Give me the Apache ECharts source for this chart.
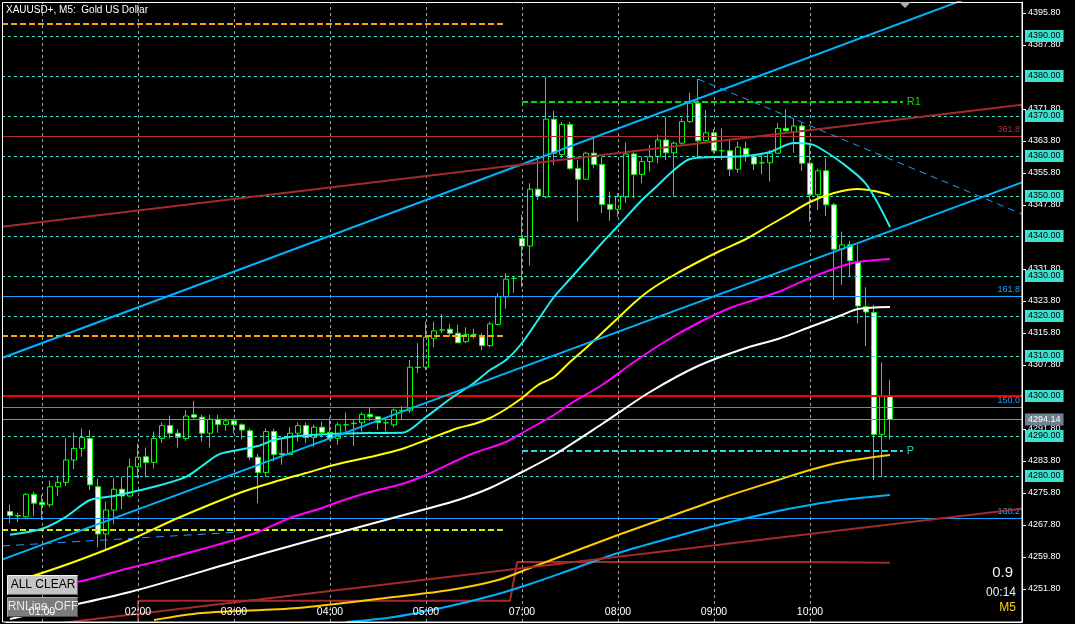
<!DOCTYPE html>
<html>
<head>
<meta charset="utf-8">
<title>XAUUSD+, M5</title>
<script src="https://cdn.jsdelivr.net/npm/echarts@6/dist/echarts.min.js"></script>
<style>
  html, body { margin: 0; padding: 0; background: #000; }
  #chart { width: 1075px; height: 624px; }
</style>
</head>
<body>
<div id="chart"></div>
<script>
// ---- price data: one M5 bar per entry, [open, close, low, high] ----
const candles = [
  [4271.1,4270.1,4268.2,4272.9],[4270.1,4270.0,4268.5,4270.8],[4269.8,4275.4,4269.2,4275.7],[4275.4,4273.2,4270.0,4276.1],
  [4273.4,4272.8,4269.0,4275.3],[4272.8,4277.3,4272.2,4278.8],[4277.3,4278.4,4275.0,4279.8],[4278.4,4284.0,4277.5,4289.4],
  [4284.0,4286.9,4281.7,4290.8],[4286.9,4289.6,4284.8,4291.9],[4289.4,4277.8,4276.5,4291.5],[4277.3,4265.5,4262.2,4279.3],
  [4265.5,4271.5,4261.5,4273.6],[4271.5,4276.7,4268.0,4279.4],[4276.7,4275.0,4271.7,4279.8],[4275.0,4282.3,4274.8,4284.4],
  [4282.3,4284.7,4279.4,4288.2],[4284.8,4283.4,4279.7,4287.1],[4283.4,4289.4,4281.9,4291.1],[4289.4,4292.6,4288.3,4293.4],
  [4292.6,4290.7,4289.4,4295.1],[4290.7,4289.7,4287.1,4291.7],[4289.4,4295.0,4288.8,4296.5],[4295.3,4294.7,4294.3,4298.8],
  [4294.7,4290.7,4288.6,4295.3],[4290.7,4294.2,4287.1,4295.3],[4294.2,4292.9,4290.8,4295.3],[4292.9,4293.8,4291.3,4294.4],
  [4293.8,4292.8,4290.7,4294.4],[4292.8,4291.5,4289.2,4293.2],[4291.3,4284.7,4284.0,4291.9],[4284.7,4280.9,4273.2,4285.5],
  [4280.9,4291.1,4279.8,4291.9],[4291.1,4285.4,4283.6,4291.8],[4285.6,4285.4,4282.8,4289.4],[4285.4,4290.7,4285.3,4292.2],
  [4290.7,4292.6,4288.6,4293.4],[4292.6,4289.6,4288.3,4293.4],[4289.6,4292.2,4287.2,4292.8],[4292.2,4290.9,4289.8,4293.6],
  [4290.9,4289.4,4288.8,4294.7],[4289.4,4292.8,4287.8,4293.4],[4292.8,4292.8,4291.1,4295.9],[4293.2,4293.1,4287.5,4294.2],
  [4293.3,4295.4,4291.1,4295.9],[4295.4,4294.8,4293.8,4297.1],[4294.8,4293.4,4291.5,4295.0],[4293.3,4293.3,4291.1,4294.7],
  [4292.8,4296.5,4292.2,4296.9],[4296.4,4296.3,4294.0,4297.5],[4296.3,4307.2,4295.8,4309.0],[4307.2,4307.1,4305.8,4313.2],
  [4307.2,4314.7,4306.5,4318.6],[4314.4,4316.3,4312.2,4318.6],[4316.5,4316.5,4315.7,4320.5],[4316.7,4315.7,4314.8,4318.0],
  [4315.7,4313.3,4313.2,4317.8],[4313.6,4315.4,4313.2,4317.2],[4315.4,4315.4,4314.3,4316.8],[4314.8,4312.6,4311.5,4315.7],
  [4312.6,4318.0,4312.3,4318.6],[4317.9,4324.8,4317.6,4325.7],[4324.8,4329.2,4321.8,4330.7],[4329.4,4329.4,4325.8,4330.0],
  [4339.4,4337.5,4327.2,4345.3],[4337.5,4351.7,4332.6,4353.2],[4351.7,4350.0,4349.0,4359.8],[4349.8,4369.2,4349.4,4379.8],
  [4369.2,4360.7,4357.8,4371.3],[4360.4,4367.9,4359.5,4368.5],[4367.9,4356.9,4356.5,4368.5],[4356.9,4354.2,4343.6,4359.0],
  [4354.2,4360.7,4354.0,4361.1],[4360.7,4357.9,4356.9,4364.4],[4357.9,4347.9,4345.7,4359.8],[4347.9,4346.7,4343.8,4351.1],
  [4346.7,4349.8,4344.8,4350.7],[4349.8,4360.5,4348.3,4363.4],[4360.5,4355.4,4349.4,4361.5],[4355.4,4358.6,4353.2,4359.8],
  [4358.6,4359.8,4356.1,4362.8],[4359.8,4364.0,4358.2,4365.3],[4364.0,4360.8,4359.0,4369.8],[4360.8,4363.2,4349.8,4363.6],
  [4363.2,4368.6,4362.5,4369.4],[4368.6,4373.2,4368.3,4375.8],[4373.2,4363.8,4359.8,4379.3],[4363.8,4365.8,4363.2,4371.5],
  [4365.8,4361.3,4360.7,4366.8],[4361.3,4361.3,4359.0,4366.9],[4361.3,4356.7,4355.0,4364.0],[4356.7,4362.2,4355.8,4363.6],
  [4361.9,4360.3,4358.6,4363.6],[4359.8,4358.0,4356.5,4359.8],[4358.3,4358.3,4355.4,4360.8],[4358.3,4360.7,4353.6,4361.5],
  [4360.7,4366.9,4360.5,4368.2],[4366.9,4366.3,4366.1,4371.7],[4366.1,4367.5,4360.8,4369.4],[4367.5,4358.2,4356.3,4368.2],
  [4358.2,4350.3,4343.6,4363.0],[4350.3,4356.3,4346.5,4356.8],[4356.3,4347.8,4345.0,4359.4],[4347.8,4336.7,4324.0,4348.3],
  [4336.7,4337.8,4327.8,4341.1],[4337.8,4333.8,4330.0,4338.8],[4333.6,4322.5,4318.2,4337.8],[4322.3,4321.0,4312.5,4327.2],
  [4320.9,4290.4,4279.0,4322.8],[4290.4,4300.1,4279.7,4308.4],[4300.1,4294.14,4289.2,4304.0]
];

// ---- moving averages, [bar index, price] ----
const maCyan = [[0,4265.3],[4,4266.8],[7,4269.8],[10,4274.0],[13,4275.0],[18,4277.3],[22,4279.8],[24,4282.5],[26,4285.3],
  [28,4286.3],[31,4287.5],[33,4289.0],[36,4290.0],[40,4290.5],[45,4290.75],[49,4290.8],[52,4294.75],[55,4299.25],[58,4303.25],
  [60,4306.5],[62,4309.0],[64,4313.25],[66,4319.0],[68,4324.75],[70,4329.25],[72,4333.75],[74,4338.25],[76,4342.5],[79,4349.0],
  [81,4352.75],[83,4356.5],[85,4359.25],[88,4359.75],[92,4360.0],[95,4361.0],[98,4363.25],[100,4363.0],[101,4362.25],
  [104,4358.25],[107,4353.0],[110,4342.25]];
const maYellow = [[0,4253.25],[4,4255.75],[9,4259.25],[15,4264.0],[21,4269.5],[29,4276.0],[33,4278.5],[37,4280.75],[41,4283.0],
  [45,4284.75],[49,4286.75],[52,4289.0],[56,4292.0],[58,4293.0],[60,4294.5],[62,4296.75],[64,4299.5],[66,4302.75],[68,4304.75],
  [70,4308.5],[72,4312.0],[74,4315.75],[76,4319.5],[78,4323.25],[80,4326.5],[83,4330.25],[86,4333.5],[89,4336.5],[92,4339.25],
  [95,4342.75],[97,4345.0],[100,4348.5],[103,4350.75],[106,4351.75],[108,4351.25],[110,4350.25]];
const maMagenta = [[0,4250.75],[4,4252.25],[9,4253.75],[14,4256.5],[19,4259.0],[24,4261.75],[28,4264.0],[31,4266.0],[35,4269.5],
  [39,4272.0],[41,4273.5],[45,4276.0],[49,4278.0],[52,4280.25],[56,4284.0],[58,4285.75],[62,4288.5],[64,4290.75],[66,4293.0],
  [68,4295.25],[70,4298.0],[74,4302.75],[78,4308.5],[82,4313.75],[86,4318.25],[90,4322.0],[93,4324.0],[96,4326.0],[100,4329.5],
  [104,4332.5],[106,4333.5],[110,4334.25]];
const maWhite = [[0,4244.25],[5,4246.5],[15,4251.0],[28,4258.5],[31,4260.25],[40,4265.25],[52,4271.75],[56,4274.0],[60,4277.0],
  [64,4281.0],[68,4285.25],[74,4293.0],[80,4301.0],[86,4307.5],[92,4312.0],[96,4314.25],[100,4317.25],[104,4320.25],[106,4321.75],
  [110,4322.25]];
const maGold = [[18,4244.0],[24,4245.75],[36,4247.0],[48,4249.75],[55,4251.5],[61,4254.0],[65,4257.0],[70,4260.75],[76,4265.25],
  [83,4270.25],[89,4274.5],[96,4279.0],[100,4281.5],[104,4283.5],[110,4285.25]];
const maBlue = [[42,4243.5],[48,4244.75],[55,4247.5],[61,4250.5],[65,4253.0],[70,4256.5],[76,4260.75],[83,4264.75],[89,4268.0],
  [96,4271.25],[100,4272.75],[104,4274.0],[110,4275.25]];
const dayLowStep = [[16,4243.5],[16,4248.8],[62.5,4248.8],[63.4,4258.5],[99.4,4258.5],[99.4,4258.3],[110,4258.3]];

// ---- trend lines, two anchors each [bar index, price] ----
const channelUpper = [[-1,4309.5],[126.5,4404.5]];
const channelLower = [[-1,4259.1],[126.5,4353.4]];
const fallingLine  = [[86,4379.25],[126.5,4345.5]];
const earlyLine    = [[-1,4262.5],[28.75,4266.0]];
const brownUpper   = [[-1,4342.3],[126.5,4372.8]];
const brownLower   = [[-1,4241.5],[126.5,4271.8]];

// ---- horizontal levels ----
const roundLevels = [4280, 4290, 4300, 4310, 4320, 4330, 4340, 4350, 4360, 4370, 4380, 4390];
const fibLevels = [['361.8', 4365.0, '#b03030'], ['161.8', 4324.9, '#1ea0ff'], ['150.0', 4297.2, '#1ea0ff'], ['138.2', 4269.5, '#1ea0ff']];
const redLevel = 4300.0;
const lastPrice = 4294.14;
const orangeLevels = [4393.0, 4315.1];
const limeLevel = 4266.6;
const pivotR1 = 4373.5;
const pivotP = 4286.3;

// ---- axis tick labels ----
const priceTicks = [4251.8, 4259.8, 4267.8, 4275.8, 4283.8, 4291.8, 4307.8, 4315.8, 4323.8, 4331.8,
                    4347.8, 4355.8, 4363.8, 4371.8, 4387.8, 4395.8];
const hourLabels = ['01:00', '02:00', '03:00', '04:00', '05:00', '07:00', '08:00', '09:00', '10:00'];

// time slots from 00:40 in 5-minute steps; the 06:00 hour has no quotes
const SLOTS = 127;
const times = [];
for (let k = 0; k < SLOTS; k++) {
  let m = 40 + 5 * k;
  if (m >= 360) m += 60;
  times.push(String(Math.floor(m / 60)).padStart(2, '0') + ':' + String(m % 60).padStart(2, '0'));
}
const hourIndex = hourLabels.map(t => times.indexOf(t));

const FONT = 'Liberation Sans';
const Y_MIN = 4243.5, Y_MAX = 4398.5;

function lineSeries(name, data, color, width, z, extra) {
  return Object.assign({
    name, type: 'line', xAxisIndex: 1, yAxisIndex: 1, data,
    showSymbol: false, symbol: 'none', clip: true, z, silent: true,
    lineStyle: { color, width }
  }, extra || {});
}

function hSegment(x0, x1, v, style, label) {
  const first = { coord: [x0, v], lineStyle: style };
  first.label = label || { show: false };
  return [first, { coord: [x1, v] }];
}

const chart = echarts.init(document.getElementById('chart'), null, { renderer: 'canvas' });

const option = {
  animation: false,
  backgroundColor: '#000',
  textStyle: { fontFamily: FONT },
  grid: [
    { left: 6, right: 53, top: 2, bottom: 2 },
    { left: 2, right: 53, top: 2, bottom: 2 }
  ],
  xAxis: [
    {
      type: 'category', gridIndex: 0, data: times, boundaryGap: true, z: 70,
      axisLine: { show: true, lineStyle: { color: '#fff', width: 1 } },
      axisTick: { show: false },
      splitLine: { show: false },
      axisLabel: {
        inside: true, margin: 4, color: '#fff', fontSize: 10.5, fontFamily: FONT,
        interval: (idx, val) => hourLabels.includes(val)
      }
    },
    { type: 'value', gridIndex: 1, min: -1, max: 126.5, show: false }
  ],
  yAxis: [
    {
      type: 'value', gridIndex: 0, position: 'right', min: Y_MIN, max: Y_MAX, scale: true,
      axisLine: { show: true, lineStyle: { color: '#fff', width: 1 } },
      axisTick: { show: true, customValues: priceTicks, length: 4, lineStyle: { color: '#fff' } },
      axisLabel: {
        customValues: priceTicks, margin: 6, color: '#fff', fontSize: 9, fontFamily: FONT,
        formatter: v => v.toFixed(2)
      },
      splitLine: { show: false }
    },
    { type: 'value', gridIndex: 1, min: Y_MIN, max: Y_MAX, show: false }
  ],
  series: [
    // background grid: hour separators and round-number levels with their price tags
    {
      type: 'line', xAxisIndex: 1, yAxisIndex: 1, data: [], z: 1, silent: true,
      markLine: {
        silent: true, symbol: ['none', 'none'], animation: false,
        data: [
          ...hourIndex.map(i => ({ xAxis: i, label: { show: false },
            lineStyle: { color: '#a0a0a0', type: [3, 3], width: 1 } })),
          ...roundLevels.map(v => ({
            yAxis: v,
            lineStyle: { color: '#40e0d0', type: [3, 3], width: 1 },
            label: {
              show: true, position: 'end', distance: 3, formatter: v.toFixed(2),
              color: '#000', backgroundColor: '#40e0d0', fontSize: 9, fontFamily: FONT,
              padding: [2, 3, 1, 3]
            }
          }))
        ]
      }
    },
    {
      name: 'XAUUSD+', type: 'candlestick', xAxisIndex: 0, yAxisIndex: 0, data: candles,
      barWidth: 5, z: 3, silent: true,
      itemStyle: {
        color: '#000', color0: '#fff',
        borderColor: '#00ff00', borderColor0: '#00ff00', borderColorDoji: '#00ff00',
        borderWidth: 1
      }
    },
    // chart objects: fibonacci levels, pivots, session levels, last price
    {
      type: 'line', xAxisIndex: 1, yAxisIndex: 1, data: [], z: 4, silent: true,
      markLine: {
        silent: true, symbol: ['none', 'none'], animation: false,
        data: [
          ...fibLevels.map(([txt, v, c]) => ({
            yAxis: v, lineStyle: { color: c, type: 'solid', width: 1 },
            label: { show: true, position: 'insideEndTop', distance: [2, 2], formatter: txt,
              color: c, fontSize: 9, fontFamily: FONT }
          })),
          { yAxis: redLevel, lineStyle: { color: '#ff0000', type: 'solid', width: 2 }, label: { show: false } },
          {
            yAxis: lastPrice, lineStyle: { color: '#8090a0', type: 'solid', width: 1 },
            label: { show: true, position: 'end', distance: 3, formatter: lastPrice.toFixed(2),
              color: '#fff', backgroundColor: '#708090', fontSize: 9, fontFamily: FONT, padding: [2, 3, 1, 3] }
          },
          hSegment(-1, 61.6, orangeLevels[0], { color: '#ffa500', type: [6, 3], width: 2 }),
          hSegment(-1, 61.6, orangeLevels[1], { color: '#ffa500', type: [6, 3], width: 2 }),
          hSegment(-1, 61.6, limeLevel, { color: '#c8f000', type: [6, 3], width: 2 }),
          hSegment(64, 111.6, pivotR1, { color: '#00e000', type: [6, 3], width: 2 },
            { show: true, position: 'end', distance: 4, formatter: 'R1', color: '#00e000', fontSize: 11, fontFamily: FONT }),
          hSegment(64, 111.6, pivotP, { color: '#20e0e0', type: [6, 3], width: 2 },
            { show: true, position: 'end', distance: 4, formatter: 'P', color: '#20d0d0', fontSize: 11, fontFamily: FONT })
        ]
      }
    },
    lineSeries('day low', dayLowStep, '#a52a2a', 2, 4),
    lineSeries('MA gold', maGold, '#ffcc00', 2, 5, { smooth: 0.3 }),
    lineSeries('MA blue', maBlue, '#00b0ff', 2, 5, { smooth: 0.3 }),
    lineSeries('MA white', maWhite, '#ffffff', 2, 5, { smooth: 0.3 }),
    lineSeries('MA magenta', maMagenta, '#ff00ff', 2, 5, { smooth: 0.3 }),
    lineSeries('MA yellow', maYellow, '#ffff00', 2, 5, { smooth: 0.3 }),
    lineSeries('MA cyan', maCyan, '#20eef0', 2, 5, { smooth: 0.3 }),
    lineSeries('channel upper', channelUpper, '#00b4ff', 2, 6),
    lineSeries('channel lower', channelLower, '#00b4ff', 2, 6),
    lineSeries('falling line', fallingLine, '#1ea0ff', 1, 6, { lineStyle: { color: '#1ea0ff', width: 1, type: [7, 5] } }),
    lineSeries('early line', earlyLine, '#1ea0ff', 1, 6, { lineStyle: { color: '#1ea0ff', width: 1, type: [8, 6] } }),
    lineSeries('brown upper', brownUpper, '#a52a2a', 2, 6),
    lineSeries('brown lower', brownLower, '#a52a2a', 2, 6)
  ],
  graphic: [
    { type: 'rect', z: 50, silent: true, shape: { x: 2.5, y: 2.5, width: 1019.5, height: 619.5 },
      style: { fill: 'none', stroke: '#fff', lineWidth: 1 } },
    { type: 'polygon', z: 50, silent: true, shape: { points: [[899, 2], [911, 2], [905, 8]] },
      style: { fill: '#b0b0b0' } },
    { type: 'text', z: 50, silent: true,
      style: { text: 'XAUUSD+, M5:  Gold US Dollar', x: 6, y: 10, fill: '#fff',
        font: '10px "Liberation Sans"', verticalAlign: 'middle' } },
    { type: 'text', z: 50, silent: true,
      style: { text: '0.9', x: 1013, y: 573, fill: '#e8f4ff', font: '15px "Liberation Sans"',
        align: 'right', verticalAlign: 'middle' } },
    { type: 'text', z: 50, silent: true,
      style: { text: '00:14', x: 1016, y: 593, fill: '#e8f4ff', font: '12px "Liberation Sans"',
        align: 'right', verticalAlign: 'middle' } },
    { type: 'text', z: 50, silent: true,
      style: { text: 'M5', x: 1016, y: 608, fill: '#ffd700', font: '12px "Liberation Sans"',
        align: 'right', verticalAlign: 'middle' } },
    // control buttons
    { type: 'rect', z: 60, silent: true, shape: { x: 7.5, y: 575.5, width: 70, height: 19 },
      style: { fill: '#c4c4c4', stroke: '#f2f2f2', lineWidth: 1 } },
    { type: 'polyline', z: 61, silent: true, shape: { points: [[8, 594.5], [77.5, 594.5], [77.5, 576]] },
      style: { stroke: '#6a6a6a', lineWidth: 1, fill: 'none' } },
    { type: 'text', z: 62, silent: true,
      style: { text: 'ALL CLEAR', x: 43, y: 585, fill: '#000', font: '12px "Liberation Sans"',
        align: 'center', verticalAlign: 'middle' } },
    { type: 'rect', z: 60, silent: true, shape: { x: 7.5, y: 597.5, width: 70, height: 19 },
      style: { fill: '#7c7c7c', stroke: '#a8a8a8', lineWidth: 1 } },
    { type: 'polyline', z: 61, silent: true, shape: { points: [[8, 616.5], [77.5, 616.5], [77.5, 598]] },
      style: { stroke: '#4a4a4a', lineWidth: 1, fill: 'none' } },
    { type: 'text', z: 62, silent: true,
      style: { text: 'RNLine_OFF', x: 43, y: 607, fill: '#e8e8e8', font: '12px "Liberation Sans"',
        align: 'center', verticalAlign: 'middle' } }
  ]
};

chart.setOption(option);
</script>
</body>
</html>
